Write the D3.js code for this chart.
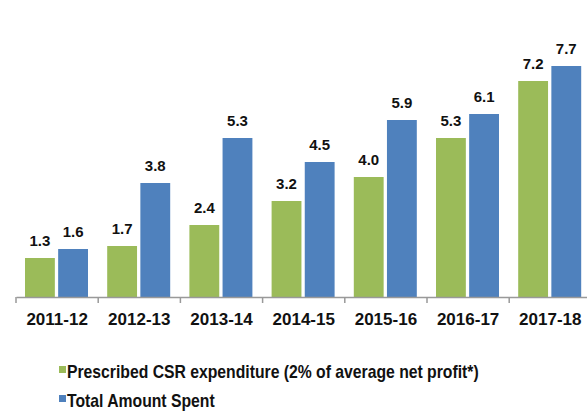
<!DOCTYPE html>
<html>
<head>
<meta charset="utf-8">
<script src="https://cdn.jsdelivr.net/npm/d3@7"></script>
<style>
  body { margin: 0; background: #fff; }
  svg text { font-family: "Liberation Sans Narrow", "Arial Narrow", "Liberation Sans", Arial, sans-serif; font-weight: bold; fill: #111; }
</style>
</head>
<body>
<svg id="chart" width="587" height="412"></svg>
<script>
// values in Rs thousand crore
var years = ["2011-12", "2012-13", "2013-14", "2014-15", "2015-16", "2016-17", "2017-18"];
var prescribed = [1.3, 1.7, 2.4, 3.2, 4.0, 5.3, 7.2];
var spent = [1.6, 3.8, 5.3, 4.5, 5.9, 6.1, 7.7];
var seriesNames = ["Prescribed CSR expenditure (2% of average net profit*)", "Total Amount Spent"];
var colors = ["#9bbb59", "#4f81bd"];

var svg = d3.select("#chart");

var baseY = 297;
var x0 = d3.scaleBand().domain(years).range([16, 16 + 7 * 82.2]);
var x1 = d3.scaleBand().domain([0, 1]).range([9, 72]).paddingInner(0.1);
var y = d3.scaleLinear().domain([0, 8]).range([baseY, baseY - 240]);

var rows = years.map(function(yr, i) { return {year: yr, vals: [prescribed[i], spent[i]]}; });

var groups = svg.selectAll("g.grp")
    .data(rows)
    .enter()
    .append("g")
    .attr("class", "grp")
    .attr("transform", function(d) { return "translate(" + x0(d.year) + ",0)"; });

groups.selectAll("rect")
    .data(function(d) { return d.vals; })
    .enter()
    .append("rect")
    .attr("x", function(d, i) { return x1(i); })
    .attr("y", function(d) { return y(d); })
    .attr("width", x1.bandwidth())
    .attr("height", function(d) { return baseY - y(d); })
    .attr("fill", function(d, i) { return colors[i]; });

groups.selectAll("text.val")
    .data(function(d) { return d.vals; })
    .enter()
    .append("text")
    .attr("class", "val")
    .attr("x", function(d, i) { return x1(i) + x1.bandwidth() / 2; })
    .attr("y", function(d) { return y(d) - 12; })
    .attr("text-anchor", "middle")
    .style("font-size", "15px")
    .text(function(d) { return d.toFixed(1); });

// axis
var axis = d3.axisBottom(x0).tickSize(0).tickPadding(16);
var ax = svg.append("g")
    .attr("transform", "translate(0," + baseY + ")")
    .call(axis);
ax.select(".domain").attr("stroke", "#999").attr("stroke-width", 1.5);
ax.selectAll("text").style("font-size", "17px").attr("fill", "#111");

// tick marks at category boundaries
svg.append("g").selectAll("line")
    .data(years)
    .enter()
    .append("line")
    .attr("x1", function(d) { return x0(d); })
    .attr("x2", function(d) { return x0(d); })
    .attr("y1", baseY)
    .attr("y2", baseY + 6)
    .attr("stroke", "#999")
    .attr("stroke-width", 1.5);

// legend
var leg = svg.append("g").selectAll("g")
    .data(seriesNames)
    .enter()
    .append("g")
    .attr("transform", function(d, i) { return "translate(59," + (371 + i * 29) + ")"; });

leg.append("rect")
    .attr("x", 0)
    .attr("y", -5)
    .attr("width", 7)
    .attr("height", 7)
    .attr("fill", function(d, i) { return colors[i]; });

leg.append("text")
    .attr("transform", "translate(8,7) scale(0.9,1)")
    .style("font-size", "17.5px")
    .text(function(d) { return d; });
</script>
</body>
</html>
